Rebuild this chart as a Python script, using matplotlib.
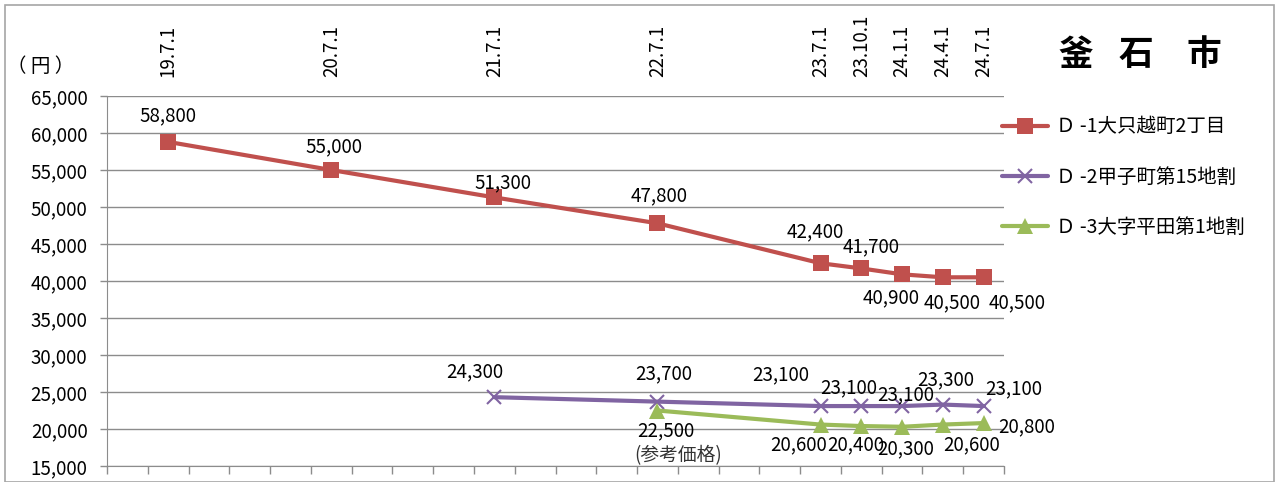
import matplotlib
matplotlib.use("Agg")
import matplotlib.pyplot as plt
from matplotlib.patches import Rectangle
from matplotlib.ticker import FuncFormatter

plt.rcParams['font.family'] = ['Noto Sans CJK JP', 'DejaVu Sans']

# Survey dates (Heisei year.month.day)
dates = ["19.7.1", "20.7.1", "21.7.1", "22.7.1", "23.7.1", "23.10.1", "24.1.1", "24.4.1", "24.7.1"]

# Land prices (yen / m2); None = not surveyed
d1_values = [58800, 55000, 51300, 47800, 42400, 41700, 40900, 40500, 40500]
d2_values = [None, None, 24300, 23700, 23100, 23100, 23100, 23300, 23100]
d3_values = [None, None, None, 22500, 20600, 20400, 20300, 20600, 20800]

series_names = ["Ｄ -1大只越町2丁目", "Ｄ -2甲子町第15地割", "Ｄ -3大字平田第1地割"]
colors = ["#C0504D", "#8064A2", "#9BBB59"]
markers = ["s", "x", "^"]

# label offsets in pixels (dx, dy) for each data label
d1_offsets = [(0, 26), (3, 23), (9, 15), (2, 27), (-5, 31), (10, 22), (-11, -23), (9, -25), (34, -25)]
d2_offsets = [None, None, (-20, 25), (6, 28), (-40, 31), (-13, 18), (4, 11), (3, 25), (30, 17)]
d3_offsets = [None, None, None, (8, -20), (-22, -20), (-6, -19), (4, -22), (29, -20), (43, -4)]


def quarter_pos(s):
    y, m, _ = (int(v) for v in s.split("."))
    return (y - 19) * 4 + (m - 4) // 3 + 0.5


xs = [quarter_pos(d) for d in dates]

W, H = 1281, 482
fig = plt.figure(figsize=(W / 100, H / 100), dpi=100)
ax = fig.add_axes([107 / W, 16 / H, (1004 - 107) / W, (466 - 96) / H])

FS = 13.5
grid_c = "#8C8C8C"
series = [d1_values, d2_values, d3_values]
offsets = [d1_offsets, d2_offsets, d3_offsets]
msizes = [11, 10, 11]
for vals, offs, name, c, mk, ms in zip(series, offsets, series_names, colors, markers, msizes):
    px = [x for x, v in zip(xs, vals) if v is not None]
    py = [v for v in vals if v is not None]
    ax.plot(px, py, color=c, lw=3, marker=mk, ms=ms, mew=1.5 if mk == "x" else 0,
            mec=c, mfc=c, label=name, zorder=3, solid_capstyle="round")
    for x, v, o in zip(xs, vals, offs):
        if v is None:
            continue
        ax.annotate(f"{v:,}", (x, v), xytext=o, textcoords="offset pixels",
                    ha="center", va="center", fontsize=FS, color="black", zorder=4)

# note below the first D-3 value
ax.annotate("(参考価格)", (xs[3], d3_values[3]), xytext=(-23, -45), textcoords="offset pixels",
            ha="left", va="center", fontsize=FS, color="#333333")

ax.set_xlim(0, 22)
ax.set_ylim(15000, 65000)
ax.set_yticks(range(15000, 65001, 5000))
ax.yaxis.set_major_formatter(FuncFormatter(lambda v, p: f"{int(v):,}"))
ax.grid(axis="y", color=grid_c, lw=1)
ax.set_axisbelow(True)

ax.set_xticks(range(0, 23))
ax.set_xticklabels([])
ax.tick_params(axis="x", direction="out", length=6, color=grid_c, width=1)
ax.tick_params(axis="y", direction="out", length=5, color=grid_c, width=1, labelsize=FS, pad=9)

for s in ["right", "top"]:
    ax.spines[s].set_visible(False)
for s in ["left", "bottom"]:
    ax.spines[s].set_color(grid_c)

top = ax.secondary_xaxis("top")
top.set_xticks(xs)
top.set_xticklabels(dates, rotation=90, fontsize=FS)
top.tick_params(length=0, pad=14)
top.spines["top"].set_visible(False)

fig.text(74 / W, 1 - 67 / H, "（ 円 ）", ha="right", va="center", fontsize=14)

# city name
for ch, cx in zip(["釜", "石", "市"], [1076, 1136, 1204]):
    fig.text(cx / W, 1 - 55 / H, ch, ha="center", va="center", fontsize=25, fontweight="bold")

leg = fig.legend(loc="upper left", bbox_to_anchor=(984 / W, 1 - 99 / H), frameon=False,
                 fontsize=14, labelspacing=1.5, handlelength=2.4, handletextpad=0.4)

fig.patches.append(Rectangle((5 / W, 0), (1274 - 5) / W, 1 - 5 / H, transform=fig.transFigure,
                             fill=False, edgecolor="#A6A6A6", lw=1.2))

fig.savefig("out.png", dpi=100)
